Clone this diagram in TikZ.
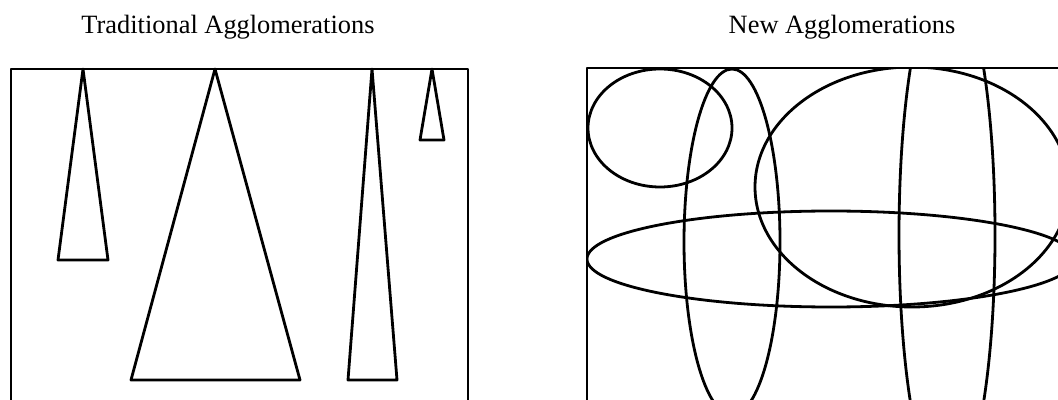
\documentclass[tikz,border=0pt]{standalone}
\usepackage{fontspec}
\setmainfont{Liberation Serif}
\usepackage{tikz}
\usetikzlibrary{positioning}

\begin{document}
\begin{tikzpicture}[x=0.5pt,y=-0.5pt,line width=1.4pt,line join=round]
      \useasboundingbox (0,0) rectangle (1058,400);
      \clip (0,0) rectangle (1058,400);
      % titles
      \node[font=\fontsize{13.2}{16}\selectfont] (tradtitle) at (228,27) {Traditional Agglomerations};
      \node[font=\fontsize{13.2}{16}\selectfont] (newtitle) at (842,27) {New Agglomerations};
      % Draw the rectangles
      \draw (11,69) rectangle (468,420);
      \draw (587,68) rectangle (1100,420);
      % traditional: triangles hanging from the top
      \draw (83,69) -- (58,260) -- (108,260) -- cycle;
      \draw (215,69) -- (131,380) -- (300,380) -- cycle;
      \draw (372,69) -- (348,380) -- (397,380) -- cycle;
      \draw (432,69) -- (420,140) -- (444,140) -- cycle;
      % new: overlapping ellipses, cut at the frame
      \begin{scope}
        \clip (587,68) rectangle (1100,420);
        \draw (660,128) ellipse [x radius=72, y radius=59];
        \draw (732,242) ellipse [x radius=48, y radius=173];
        \draw (912,187) ellipse [x radius=157, y radius=120];
        \draw (831,259) ellipse [x radius=244, y radius=48];
        \draw (947,235) ellipse [x radius=48, y radius=258];
      \end{scope}
\end{tikzpicture}
\end{document}
